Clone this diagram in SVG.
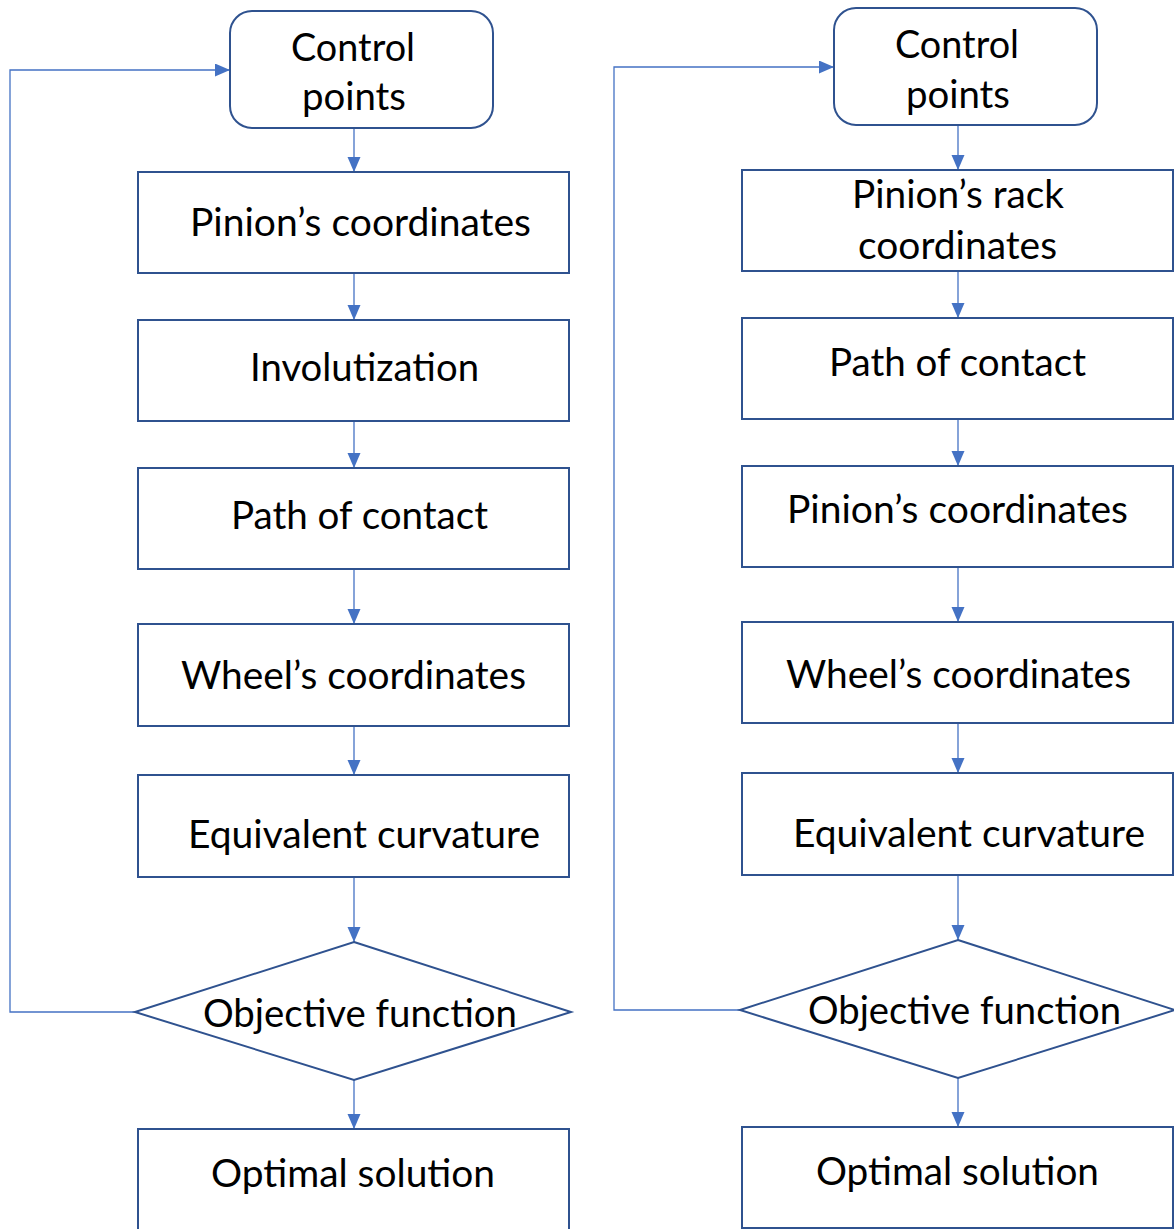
<svg xmlns="http://www.w3.org/2000/svg" width="1174" height="1229" viewBox="0 0 1174 1229">
<style>
.box{fill:#fff;stroke:#2F528F;stroke-width:2}
.conn{fill:none;stroke:#4472C4;stroke-width:1.3}
.t{font-family:Lato,"Open Sans","Liberation Sans",sans-serif;font-size:39px;fill:#000}
</style>
<defs>
<marker id="ah" markerUnits="userSpaceOnUse" markerWidth="16" markerHeight="14" refX="15" refY="6.5" orient="auto">
<path d="M0,0 L15,6.5 L0,13 Z" fill="#4472C4"/>
</marker>
</defs>
<rect width="1174" height="1229" fill="#fff"/>
<g id="connectors" class="conn">
<path d="M354,128 V172" marker-end="url(#ah)"/>
<path d="M354,273 V320" marker-end="url(#ah)"/>
<path d="M354,421 V468" marker-end="url(#ah)"/>
<path d="M354,569 V624" marker-end="url(#ah)"/>
<path d="M354,726 V775" marker-end="url(#ah)"/>
<path d="M354,877 V942" marker-end="url(#ah)"/>
<path d="M354,1080 V1129" marker-end="url(#ah)"/>
<path d="M135,1012 H10 V70 H230" marker-end="url(#ah)"/>
<path d="M958,125 V170" marker-end="url(#ah)"/>
<path d="M958,271 V318" marker-end="url(#ah)"/>
<path d="M958,419 V466" marker-end="url(#ah)"/>
<path d="M958,567 V622" marker-end="url(#ah)"/>
<path d="M958,723 V773" marker-end="url(#ah)"/>
<path d="M958,875 V940" marker-end="url(#ah)"/>
<path d="M958,1078 V1127" marker-end="url(#ah)"/>
<path d="M740,1010 H614 V67 H834" marker-end="url(#ah)"/>
</g>
<g id="L-control">
<rect class="box" x="230" y="11" width="263" height="117" rx="22"/>
<text class="t" x="291" y="61" textLength="124" lengthAdjust="spacingAndGlyphs">Control</text>
<text class="t" x="302" y="110" textLength="104" lengthAdjust="spacingAndGlyphs">points</text>
</g>
<g id="L-pinion">
<rect class="box" x="138" y="172" width="431" height="101"/>
<text class="t" x="190" y="236" textLength="341" lengthAdjust="spacingAndGlyphs">Pinion’s coordinates</text>
</g>
<g id="L-involute">
<rect class="box" x="138" y="320" width="431" height="101"/>
<text class="t" x="250" y="381" textLength="229" lengthAdjust="spacingAndGlyphs">Involutization</text>
</g>
<g id="L-path">
<rect class="box" x="138" y="468" width="431" height="101"/>
<text class="t" x="231" y="529" textLength="257" lengthAdjust="spacingAndGlyphs">Path of contact</text>
</g>
<g id="L-wheel">
<rect class="box" x="138" y="624" width="431" height="102"/>
<text class="t" x="181" y="689" textLength="345" lengthAdjust="spacingAndGlyphs">Wheel’s coordinates</text>
</g>
<g id="L-curv">
<rect class="box" x="138" y="775" width="431" height="102"/>
<text class="t" x="188" y="848" textLength="352" lengthAdjust="spacingAndGlyphs">Equivalent curvature</text>
</g>
<g id="L-obj">
<polygon class="box" points="354,942 571,1012 354,1080 135,1012"/>
<text class="t" x="203" y="1027" textLength="314" lengthAdjust="spacingAndGlyphs">Objective function</text>
</g>
<g id="L-opt">
<rect class="box" x="138" y="1129" width="431" height="110"/>
<text class="t" x="211" y="1187" textLength="284" lengthAdjust="spacingAndGlyphs">Optimal solution</text>
</g>
<g id="R-control">
<rect class="box" x="834" y="8" width="263" height="117" rx="22"/>
<text class="t" x="895" y="58" textLength="124" lengthAdjust="spacingAndGlyphs">Control</text>
<text class="t" x="906" y="108" textLength="104" lengthAdjust="spacingAndGlyphs">points</text>
</g>
<g id="R-rack">
<rect class="box" x="742" y="170" width="431" height="101"/>
<text class="t" x="852" y="208" textLength="212" lengthAdjust="spacingAndGlyphs">Pinion’s rack</text>
<text class="t" x="858" y="259" textLength="199" lengthAdjust="spacingAndGlyphs">coordinates</text>
</g>
<g id="R-path">
<rect class="box" x="742" y="318" width="431" height="101"/>
<text class="t" x="829" y="376" textLength="257" lengthAdjust="spacingAndGlyphs">Path of contact</text>
</g>
<g id="R-pinion">
<rect class="box" x="742" y="466" width="431" height="101"/>
<text class="t" x="787" y="523" textLength="341" lengthAdjust="spacingAndGlyphs">Pinion’s coordinates</text>
</g>
<g id="R-wheel">
<rect class="box" x="742" y="622" width="431" height="101"/>
<text class="t" x="786" y="688" textLength="345" lengthAdjust="spacingAndGlyphs">Wheel’s coordinates</text>
</g>
<g id="R-curv">
<rect class="box" x="742" y="773" width="431" height="102"/>
<text class="t" x="793" y="847" textLength="352" lengthAdjust="spacingAndGlyphs">Equivalent curvature</text>
</g>
<g id="R-obj">
<polygon class="box" points="958,940 1175,1010 958,1078 740,1010"/>
<text class="t" x="808" y="1024" textLength="313" lengthAdjust="spacingAndGlyphs">Objective function</text>
</g>
<g id="R-opt">
<rect class="box" x="742" y="1127" width="431" height="101"/>
<text class="t" x="816" y="1185" textLength="283" lengthAdjust="spacingAndGlyphs">Optimal solution</text>
</g>
</svg>
